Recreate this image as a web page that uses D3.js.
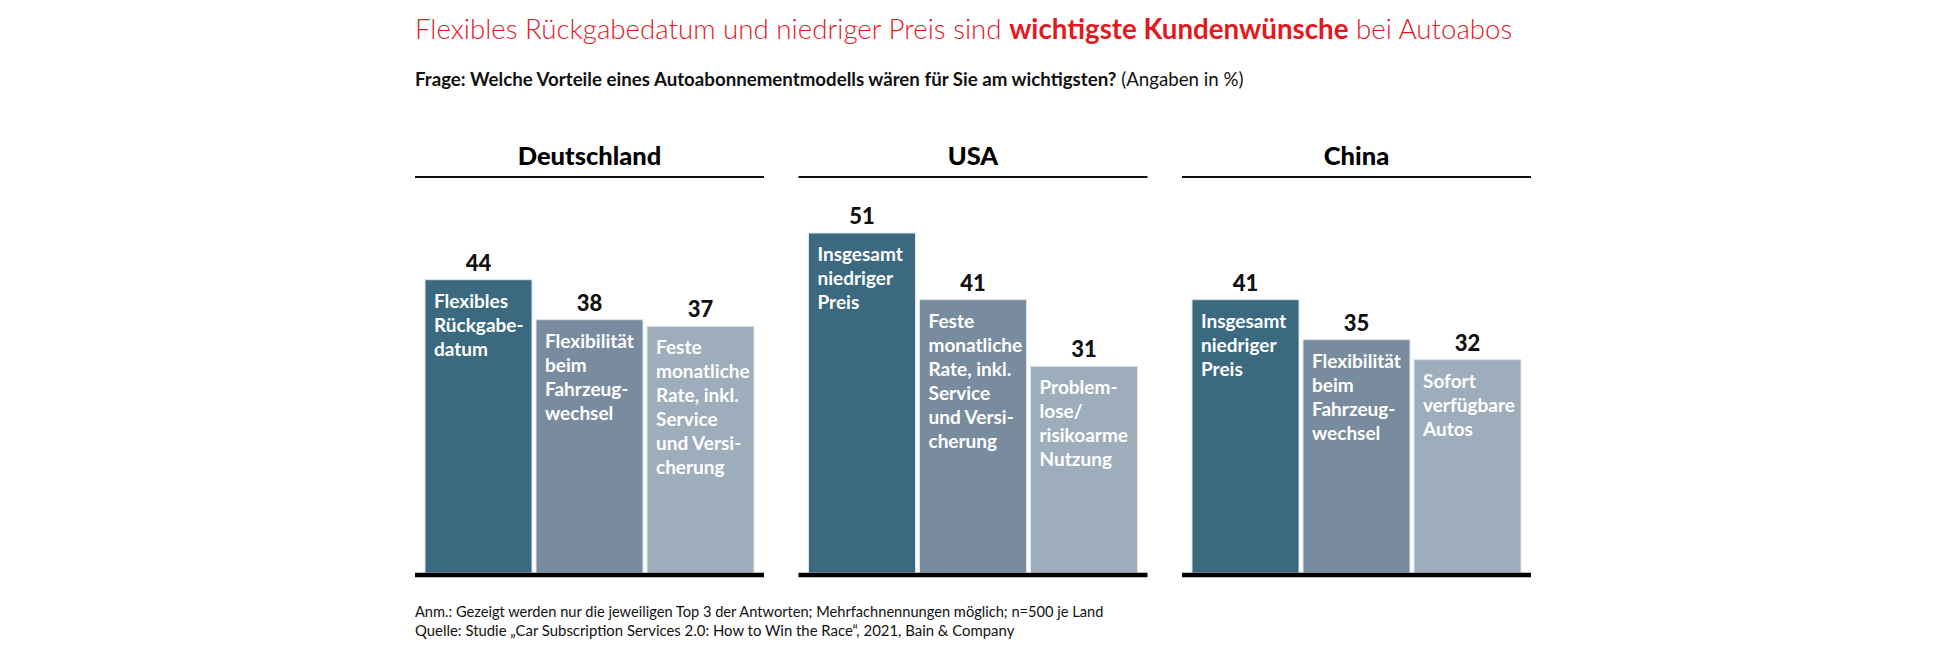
<!DOCTYPE html>
<html>
<head>
<meta charset="utf-8">
<script src="https://cdn.jsdelivr.net/npm/d3@7"></script>
<style>
    body { margin: 0; background: #fff; }
    text { font-family: Lato, "Open Sans", sans-serif; }
</style>
</head>
<body>
<svg id="chart"></svg>
<script>
// countries shown as panels
const countries = ['Deutschland', 'USA', 'China'];

// values per country (percent), top 3 answers
const valuesDE = [44, 38, 37];
const valuesUSA = [51, 41, 31];
const valuesCN = [41, 35, 32];

// labels inside the bars, line by line
const labelsDE = [
    ['Flexibles', 'Rückgabe-', 'datum'],
    ['Flexibilität', 'beim', 'Fahrzeug-', 'wechsel'],
    ['Feste', 'monatliche', 'Rate, inkl.', 'Service', 'und Versi-', 'cherung']
];
const labelsUSA = [
    ['Insgesamt', 'niedriger', 'Preis'],
    ['Feste', 'monatliche', 'Rate, inkl.', 'Service', 'und Versi-', 'cherung'],
    ['Problem-', 'lose/', 'risikoarme', 'Nutzung']
];
const labelsCN = [
    ['Insgesamt', 'niedriger', 'Preis'],
    ['Flexibilität', 'beim', 'Fahrzeug-', 'wechsel'],
    ['Sofort', 'verfügbare', 'Autos']
];

const rankColors = ['#3b6a80', '#798c9f', '#9eadbb'];

const titleParts = [
    { text: 'Flexibles Rückgabedatum und niedriger Preis sind ', bold: false },
    { text: 'wichtigste Kundenwünsche', bold: true },
    { text: ' bei Autoabos', bold: false }
];
const subtitleParts = [
    { text: 'Frage: Welche Vorteile eines Autoabonnementmodells wären für Sie am wichtigsten?', bold: true },
    { text: ' (Angaben in %)', bold: false }
];
const notes = [
    'Anm.: Gezeigt werden nur die jeweiligen Top 3 der Antworten; Mehrfachnennungen möglich; n=500 je Land',
    'Quelle: Studie „Car Subscription Services 2.0: How to Win the Race“, 2021, Bain & Company'
];

const panels = [
    { name: countries[0], values: valuesDE, labels: labelsDE },
    { name: countries[1], values: valuesUSA, labels: labelsUSA },
    { name: countries[2], values: valuesCN, labels: labelsCN }
];

const config = {
    width: 1950,
    height: 650,
    left: 415,
    panelWidth: 349,
    panelStep: 383.5,
    headerLineY: 177,
    baseY: 573,
    maxValue: 60,
    chartTop: 173
};

const svg = d3.select('#chart')
    .attr('width', config.width)
    .attr('height', config.height);

// fit a text element to a target width by changing its font size
function fitWidth(textSel, baseSize, target) {
    const w = textSel.node().getComputedTextLength();
    textSel.style('font-size', (baseSize * target / w) + 'px');
}

// title
const title = svg.append('text')
    .attr('x', config.left)
    .attr('y', 39)
    .style('font-size', '26px')
    .attr('fill', '#e3191f');
title.selectAll('tspan')
    .data(titleParts)
    .join('tspan')
    .style('font-weight', d => d.bold ? 700 : 300)
    .text(d => d.text);
fitWidth(title, 26, 1098);

// subtitle
const subtitle = svg.append('text')
    .attr('x', config.left)
    .attr('y', 86)
    .style('font-size', '18px')
    .attr('fill', '#111');
subtitle.selectAll('tspan')
    .data(subtitleParts)
    .join('tspan')
    .style('font-weight', d => d.bold ? 700 : 400)
    .text(d => d.text);
fitWidth(subtitle, 18, 829);

// shared scales
const xPanel = d3.scaleBand()
    .domain(countries)
    .range([config.left, config.left + config.panelStep * 3])
    .paddingInner(0)
    .paddingOuter(0);

const y = d3.scaleLinear()
    .domain([0, config.maxValue])
    .range([config.baseY, config.chartTop]);

const xBar = d3.scaleBand()
    .domain([0, 1, 2])
    .range([10, config.panelWidth - 10])
    .paddingInner(4 / 111)
    .paddingOuter(0);

const panelG = svg.selectAll('g.panel')
    .data(panels)
    .join('g')
    .attr('class', 'panel')
    .attr('transform', d => `translate(${xPanel(d.name)},0)`);

// header
panelG.append('text')
    .attr('x', config.panelWidth / 2)
    .attr('y', 165)
    .attr('text-anchor', 'middle')
    .style('font-size', '25.5px')
    .style('font-weight', 900)
    .attr('fill', '#000')
    .text(d => d.name);

panelG.append('line')
    .attr('x1', 0)
    .attr('x2', config.panelWidth)
    .attr('y1', config.headerLineY)
    .attr('y2', config.headerLineY)
    .attr('stroke', '#111')
    .attr('stroke-width', 2);

// bars
const barG = panelG.selectAll('g.bar')
    .data(d => d.values.map((v, i) => ({ value: v, rank: i, lines: d.labels[i] })))
    .join('g')
    .attr('class', 'bar')
    .attr('transform', d => `translate(${xBar(d.rank)},0)`);

barG.append('rect')
    .attr('x', 0)
    .attr('y', d => y(d.value))
    .attr('width', xBar.bandwidth())
    .attr('height', d => y(0) - y(d.value))
    .attr('fill', d => rankColors[d.rank])
    .attr('stroke', '#dfe5ea')
    .attr('stroke-width', 1);

barG.append('text')
    .attr('x', xBar.bandwidth() / 2)
    .attr('y', d => y(d.value) - 9)
    .attr('text-anchor', 'middle')
    .style('font-size', '22px')
    .style('font-weight', 900)
    .attr('fill', '#111')
    .text(d => d.value);

barG.append('text')
    .attr('y', d => y(d.value) + 28)
    .style('font-size', '19px')
    .style('font-weight', 700)
    .attr('fill', '#fff')
    .selectAll('tspan')
    .data(d => d.lines)
    .join('tspan')
    .attr('x', 9)
    .attr('dy', (d, i) => i === 0 ? 0 : 24)
    .text(d => d);

// baseline
panelG.append('line')
    .attr('x1', 0)
    .attr('x2', config.panelWidth)
    .attr('y1', config.baseY + 2)
    .attr('y2', config.baseY + 2)
    .attr('stroke', '#000')
    .attr('stroke-width', 4.5);

// notes
const noteWidths = [689, 600];
notes.forEach((n, i) => {
    const t = svg.append('text')
        .attr('x', config.left)
        .attr('y', 617 + i * 19)
        .style('font-size', '14px')
        .attr('fill', '#111')
        .text(n);
    fitWidth(t, 14, noteWidths[i]);
});
</script>
</body>
</html>
